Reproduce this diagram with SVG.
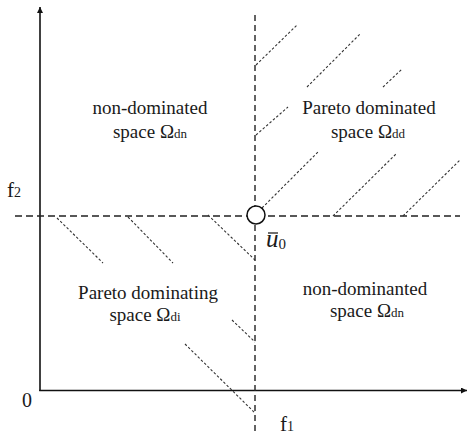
<svg xmlns="http://www.w3.org/2000/svg" width="467" height="435" viewBox="0 0 467 435">
  <defs>
    <marker id="arr" viewBox="0 0 10 10" refX="10" refY="5" markerWidth="6" markerHeight="6" markerUnits="userSpaceOnUse" orient="auto">
      <path d="M0,0 L10,5 L0,10 Z" fill="#111"/>
    </marker>
    <style>
      .axis { stroke: #111; stroke-width: 1.6; fill: none; }
      .dash { stroke: #222; stroke-width: 1.4; stroke-dasharray: 7 4; fill: none; }
      .vdash { stroke: #222; stroke-width: 1.4; stroke-dasharray: 6 4; fill: none; }
      .hatch { stroke: #333; stroke-width: 1.1; stroke-dasharray: 2.5 2; fill: none; }
      text { font-family: "Liberation Serif", "DejaVu Serif", serif; font-size: 19px; fill: #1a1a1a; }
      .sub { font-size: 13px; }
      .big { font-size: 21px; }
      .sub14 { font-size: 14px; }
    </style>
  </defs>
  <rect width="467" height="435" fill="#fff"/>

  <g id="axes">
    <line class="axis" x1="40" y1="391" x2="40" y2="7" marker-end="url(#arr)"/>
    <line class="axis" x1="39.2" y1="390.5" x2="467" y2="390.5" marker-end="url(#arr)"/>
  </g>

  <g id="connectors">
    <line class="dash" x1="15" y1="216" x2="460" y2="216"/>
    <line class="vdash" x1="255" y1="15" x2="255" y2="435"/>
  </g>

  <g id="hatch-dominated">
    <line class="hatch" x1="256" y1="65" x2="297" y2="25"/>
    <line class="hatch" x1="307" y1="87" x2="361" y2="33"/>
    <line class="hatch" x1="383" y1="87" x2="402" y2="69"/>
    <line class="hatch" x1="256" y1="135" x2="288" y2="107"/>
    <line class="hatch" x1="262" y1="208" x2="318" y2="152"/>
    <line class="hatch" x1="333" y1="216" x2="397" y2="153"/>
    <line class="hatch" x1="403" y1="216" x2="460" y2="160"/>
  </g>

  <g id="hatch-dominating">
    <line class="hatch" x1="57" y1="218" x2="103" y2="263"/>
    <line class="hatch" x1="128" y1="217" x2="173" y2="263"/>
    <line class="hatch" x1="208" y1="215" x2="255" y2="260"/>
    <line class="hatch" x1="232" y1="320" x2="255" y2="342"/>
    <line class="hatch" x1="185" y1="344" x2="255" y2="413"/>
  </g>

  <g id="point-u0">
    <circle cx="256" cy="215" r="9" fill="#fff" stroke="#111" stroke-width="1.5"/>
    <line x1="268" y1="233" x2="278" y2="233" stroke="#222" stroke-width="1.3"/>
    <text x="266" y="247" style="font-style:italic; font-size:25px">u<tspan dy="2" style="font-style:normal; font-size:15px">0</tspan></text>
  </g>

  <g id="region-nondominated-upper">
    <text x="150" y="114" text-anchor="middle">non-dominated</text>
    <text x="150" y="138" text-anchor="middle">space Ω<tspan class="sub">dn</tspan></text>
  </g>

  <g id="region-dominated">
    <text x="369" y="114" text-anchor="middle">Pareto dominated</text>
    <text x="368" y="138" text-anchor="middle">space Ω<tspan class="sub">dd</tspan></text>
  </g>

  <g id="region-dominating">
    <text x="148" y="299" text-anchor="middle">Pareto dominating</text>
    <text x="145" y="321" text-anchor="middle">space Ω<tspan class="sub">di</tspan></text>
  </g>

  <g id="region-nondominated-lower">
    <text x="365" y="295" text-anchor="middle">non-dominanted</text>
    <text x="367" y="317" text-anchor="middle">space Ω<tspan class="sub">dn</tspan></text>
  </g>

  <g id="axis-labels">
    <text class="big" x="7" y="197">f<tspan class="sub14">2</tspan></text>
    <text style="font-size:20px" x="22" y="407">0</text>
    <text class="big" x="280" y="431">f<tspan class="sub14">1</tspan></text>
  </g>
</svg>
